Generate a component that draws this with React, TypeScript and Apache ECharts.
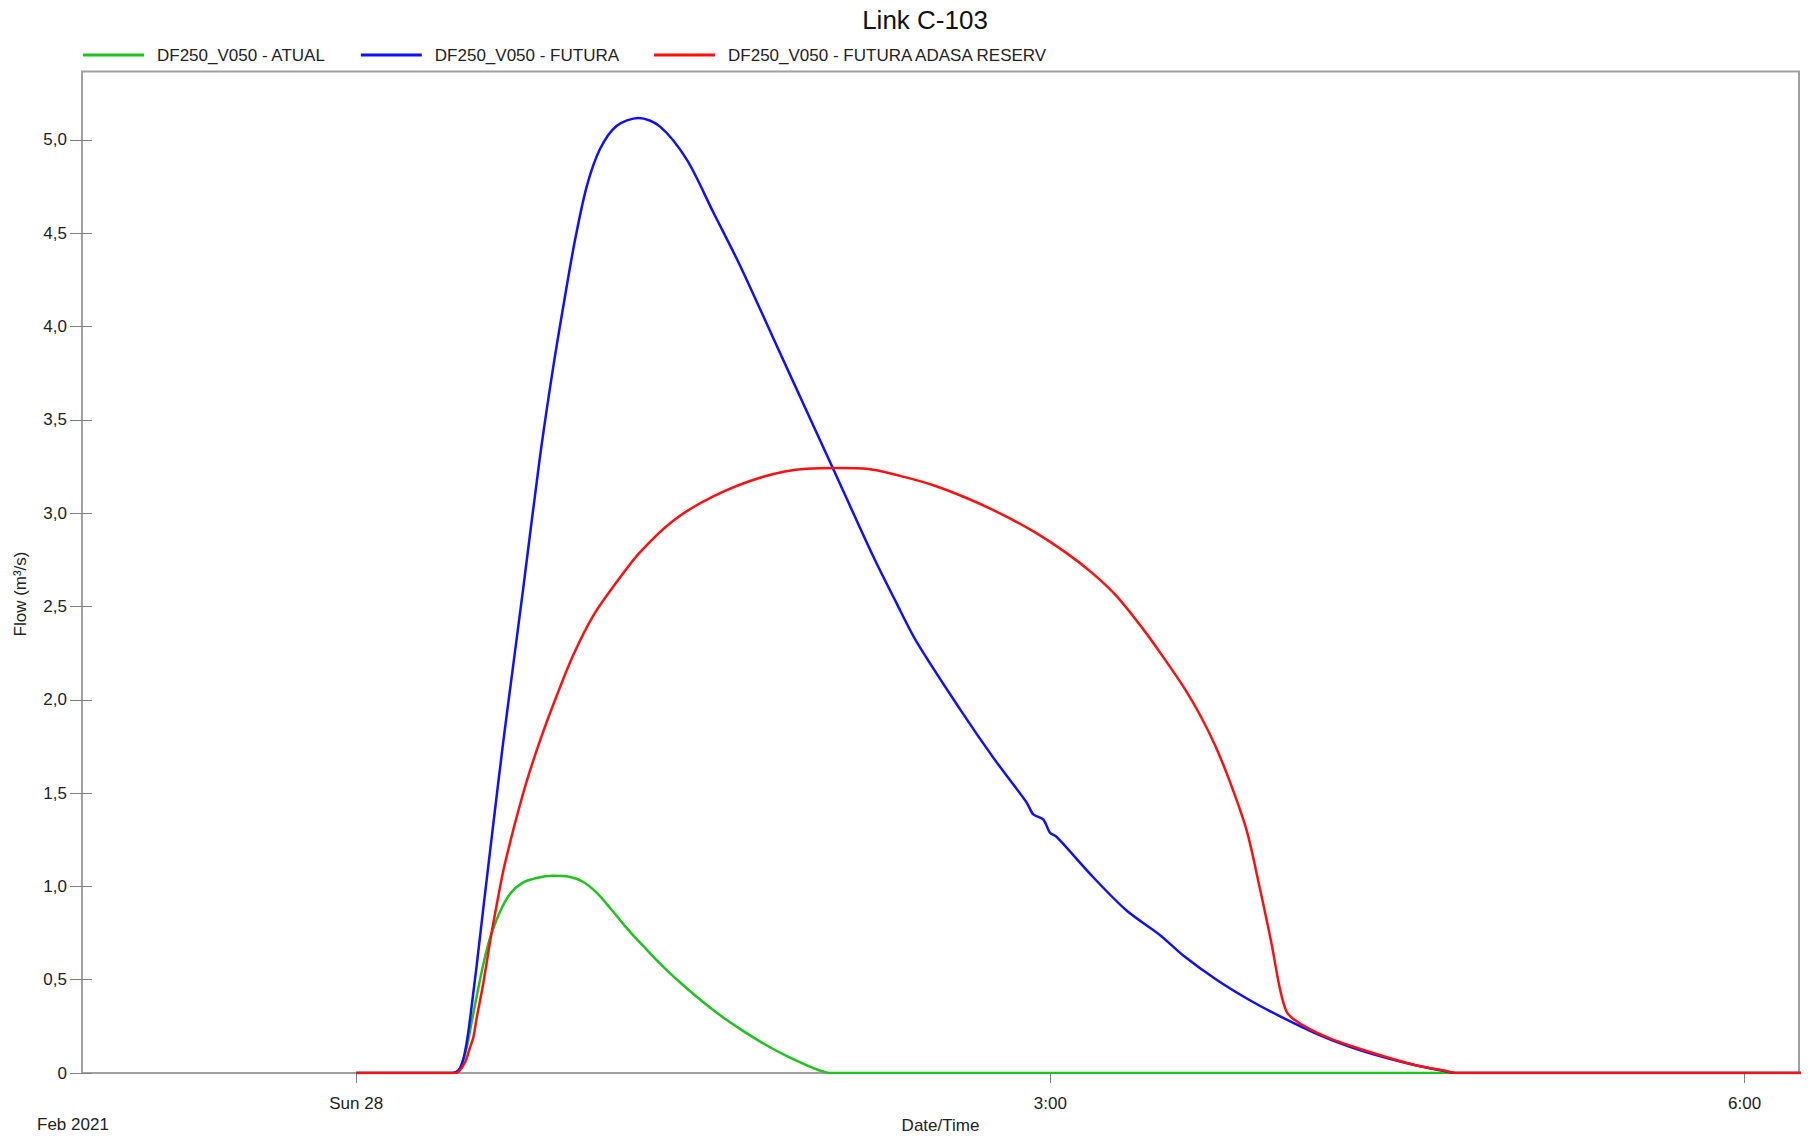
import React, { useEffect, useRef } from "react";
import * as echarts from "echarts";

// ---- Data (time in hours from Sun 28 00:00, flow in m³/s) ----
const seriesNames = [
  "DF250_V050 - ATUAL",
  "DF250_V050 - FUTURA",
  "DF250_V050 - FUTURA ADASA RESERV",
];

const atualHours = [0, 0.40, 0.44, 0.46, 0.48, 0.50, 0.535, 0.56, 0.58, 0.62, 0.665, 0.72, 0.78, 0.85, 0.92, 0.98, 1.04, 1.10, 1.16, 1.21, 1.26, 1.31, 1.36, 1.40, 1.47, 1.54, 1.60, 1.66, 1.73, 1.80, 1.87, 1.95, 2.00, 2.05, 6.25];
const atualFlow = [0, 0, 0.01, 0.06, 0.15, 0.28, 0.50, 0.64, 0.73, 0.86, 0.96, 1.02, 1.045, 1.057, 1.052, 1.025, 0.965, 0.88, 0.79, 0.72, 0.655, 0.59, 0.53, 0.485, 0.41, 0.34, 0.285, 0.235, 0.18, 0.13, 0.085, 0.04, 0.015, 0, 0];

const futuraHours = [0, 0.40, 0.43, 0.448, 0.462, 0.477, 0.49, 0.506, 0.52, 0.535, 0.549, 0.592, 0.635, 0.679, 0.722, 0.794, 0.851, 0.902, 0.945, 0.996, 1.053, 1.125, 1.22, 1.312, 1.428, 1.543, 1.658, 1.802, 1.946, 2.061, 2.234, 2.33, 2.422, 2.609, 2.753, 2.897, 2.926, 2.969, 2.998, 3.027, 3.185, 3.329, 3.473, 3.574, 3.718, 3.862, 4.006, 4.15, 4.294, 4.438, 4.582, 4.697, 4.76, 6.25];
const futuraFlow = [0, 0, 0.005, 0.025, 0.07, 0.16, 0.27, 0.43, 0.57, 0.73, 0.88, 1.33, 1.77, 2.19, 2.60, 3.30, 3.78, 4.16, 4.46, 4.75, 4.95, 5.075, 5.118, 5.073, 4.896, 4.613, 4.329, 3.939, 3.549, 3.238, 2.769, 2.53, 2.31, 1.95, 1.69, 1.45, 1.386, 1.359, 1.288, 1.265, 1.049, 0.871, 0.74, 0.63, 0.50, 0.39, 0.295, 0.21, 0.14, 0.085, 0.04, 0.012, 0, 0];

const adasaHours = [0, 0.42, 0.441, 0.47, 0.49, 0.506, 0.52, 0.549, 0.578, 0.592, 0.635, 0.672, 0.693, 0.736, 0.794, 0.866, 0.938, 1.024, 1.125, 1.226, 1.37, 1.543, 1.759, 1.946, 2.09, 2.206, 2.35, 2.494, 2.64, 2.782, 2.93, 3.07, 3.18, 3.286, 3.40, 3.487, 3.58, 3.646, 3.71, 3.776, 3.848, 3.905, 3.956, 3.992, 4.02, 4.05, 4.121, 4.20, 4.30, 4.44, 4.58, 4.70, 4.76, 6.25];
const adasaFlow = [0, 0, 0.005, 0.056, 0.13, 0.19, 0.29, 0.48, 0.70, 0.80, 1.08, 1.27, 1.37, 1.56, 1.78, 2.02, 2.24, 2.45, 2.63, 2.79, 2.96, 3.09, 3.195, 3.238, 3.242, 3.238, 3.20, 3.150, 3.08, 2.999, 2.90, 2.786, 2.68, 2.556, 2.38, 2.23, 2.06, 1.92, 1.76, 1.56, 1.30, 0.99, 0.69, 0.45, 0.33, 0.29, 0.235, 0.19, 0.145, 0.09, 0.042, 0.013, 0, 0];

const xTickValues = [0, 3, 6];
const xTickLabels = ["Sun 28", "3:00", "6:00"];
const yTickValues = [0, 0.5, 1, 1.5, 2, 2.5, 3, 3.5, 4, 4.5, 5];

const X_MIN = -1.185;
const X_MAX = 6.235;
const Y_MAX = 5.367;

const FONT = "'Liberation Sans', Arial, sans-serif";
const TEXT = "#222";
const AXIS = "#a0a0a0";

const pairs = (xs: number[], ys: number[]) => xs.map((x, i) => [x, ys[i]]);

export default function App() {
  const ref = useRef<HTMLDivElement>(null);

  useEffect(() => {
    if (!ref.current) return;
    const chart = echarts.init(ref.current, null, { renderer: "svg" });
    const lineSeries = (name: string, data: number[][], color: string) => ({
      name,
      type: "line",
      data,
      xAxisIndex: 0,
      yAxisIndex: 0,
      symbol: "none",
      showSymbol: false,
      smooth: 0.3,
      lineStyle: { color, width: 2.5 },
      itemStyle: { color },
      z: 3,
    });
    chart.setOption({
      animation: false,
      backgroundColor: "#fff",
      textStyle: { fontFamily: FONT },
      grid: {
        left: 82,
        right: 9,
        top: 71.5,
        bottom: 58.5,
        show: true,
        borderColor: AXIS,
        borderWidth: 2,
        containLabel: false,
      },
      legend: {
        left: 83,
        top: 46.5,
        padding: 0,
        icon: "rect",
        itemWidth: 61,
        itemHeight: 3,
        itemGap: 35,
        textStyle: { fontSize: 17, color: TEXT, fontFamily: FONT, padding: [0, 0, 0, 8] },
        data: seriesNames,
      },
      xAxis: {
        type: "value",
        min: X_MIN,
        max: X_MAX,
        name: "Date/Time",
        nameLocation: "middle",
        nameGap: 44,
        nameTextStyle: { fontSize: 17, color: TEXT, fontFamily: FONT },
        axisLine: { show: true, onZero: false, lineStyle: { color: AXIS, width: 2 } },
        axisTick: { show: true, length: 10, customValues: xTickValues, lineStyle: { color: "#808080", width: 1 } },
        axisLabel: {
          show: true,
          customValues: xTickValues,
          margin: 22,
          fontSize: 17,
          color: TEXT,
          fontFamily: FONT,
          formatter: (v: number) => {
            const i = xTickValues.indexOf(Math.round(v));
            return i >= 0 ? xTickLabels[i] : "";
          },
        },
        splitLine: { show: false },
      },
      yAxis: [
        {
          type: "value",
          min: 0,
          max: Y_MAX,
          position: "left",
          axisLine: { show: true, onZero: false, lineStyle: { color: AXIS, width: 2 } },
          axisTick: { show: true, length: 12, customValues: yTickValues, lineStyle: { color: "#808080", width: 1 } },
          axisLabel: {
            show: true,
            customValues: yTickValues,
            margin: 15,
            fontSize: 17,
            color: TEXT,
            fontFamily: FONT,
            formatter: (v: number) => (v === 0 ? "0" : v.toFixed(1).replace(".", ",")),
          },
          splitLine: { show: false },
        },
        {
          type: "value",
          min: 0,
          max: Y_MAX,
          position: "left",
          offset: 0,
          axisLine: { show: false, onZero: false },
          axisTick: { show: true, inside: true, length: 10, customValues: yTickValues, lineStyle: { color: "#808080", width: 1 } },
          axisLabel: { show: false },
          splitLine: { show: false },
        },
      ],
      graphic: [
        {
          type: "text",
          x: 925,
          y: 20,
          style: {
            text: "Link C-103",
            fontSize: 26,
            fontFamily: FONT,
            fill: "#111",
            textAlign: "center",
            textVerticalAlign: "middle",
          },
        },
        {
          type: "text",
          x: 20,
          y: 594,
          rotation: Math.PI / 2,
          style: {
            text: "Flow (m³/s)",
            fontSize: 17,
            fontFamily: FONT,
            fill: TEXT,
            textAlign: "center",
            textVerticalAlign: "middle",
          },
        },
        {
          type: "text",
          x: 37,
          y: 1124,
          style: {
            text: "Feb 2021",
            fontSize: 17,
            fontFamily: FONT,
            fill: TEXT,
            textAlign: "left",
            textVerticalAlign: "middle",
          },
        },
      ],
      series: [
        lineSeries(seriesNames[0], pairs(atualHours, atualFlow), "#1ec31e"),
        lineSeries(seriesNames[1], pairs(futuraHours, futuraFlow), "#1010ff"),
        lineSeries(seriesNames[2], pairs(adasaHours, adasaFlow), "#ff1010"),
      ],
    });
    return () => chart.dispose();
  }, []);

  return (
    <div
      ref={ref}
      style={{ position: "fixed", left: 0, top: 0, width: 1808, height: 1139, background: "#fff" }}
    />
  );
}
